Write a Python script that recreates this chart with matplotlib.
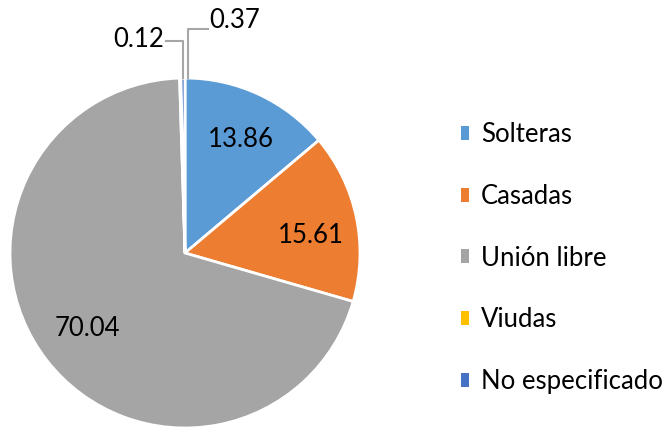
import matplotlib.pyplot as plt
from matplotlib.patches import Patch

categorias = ["Solteras", "Casadas", "Unión libre", "Viudas", "No especificado"]
valores = [13.86, 15.61, 70.04, 0.12, 0.37]
etiquetas = ["13.86", "15.61", "70.04", "0.12", "0.37"]
colores = ["#5B9BD5", "#ED7D31", "#A5A5A5", "#FFC000", "#4472C4"]

plt.rcParams["font.family"] = ["Lato", "DejaVu Sans"]

fig = plt.figure(figsize=(6.68, 4.28), dpi=100)
ax = fig.add_axes([10 / 668, 0 / 428, 350 / 668, 350 / 428])

wedges, _ = ax.pie(valores, colors=colores, startangle=90, counterclock=False,
                   radius=1, wedgeprops=dict(edgecolor="white", linewidth=2))
ax.set_xlim(-1, 1)
ax.set_ylim(-1, 1)
ax.set_aspect("equal")
ax.axis("off")

# labels inside the big slices
pos_dentro = [(0.32, 0.65), (0.72, 0.10), (-0.56, -0.43)]
for (x, y), txt in zip(pos_dentro, etiquetas[:3]):
    ax.text(x, y, txt, ha="center", va="center", fontsize=18.5, color="black")

# small slices with leader lines
gris = "#A6A6A6"
ax.plot([-0.01, -0.01, -0.11], [1.0, 1.21, 1.21], color=gris, lw=1.5, clip_on=False)
ax.text(-0.12, 1.22, etiquetas[3], ha="right", va="center", fontsize=18.5)
ax.plot([0.02, 0.02, 0.13], [1.0, 1.28, 1.28], color=gris, lw=1.5, clip_on=False)
ax.text(0.14, 1.33, etiquetas[4], ha="left", va="center", fontsize=18.5)

handles = [Patch(facecolor=c, edgecolor="none") for c in colores]
fig.legend(handles, categorias, loc="center left", bbox_to_anchor=(461 / 668, 170 / 428),
           frameon=False, fontsize=18.5, handlelength=0.32, handleheight=0.45,
           handletextpad=0.45, labelspacing=1.43, borderpad=0, borderaxespad=0)

fig.savefig("out.png", dpi=100)
